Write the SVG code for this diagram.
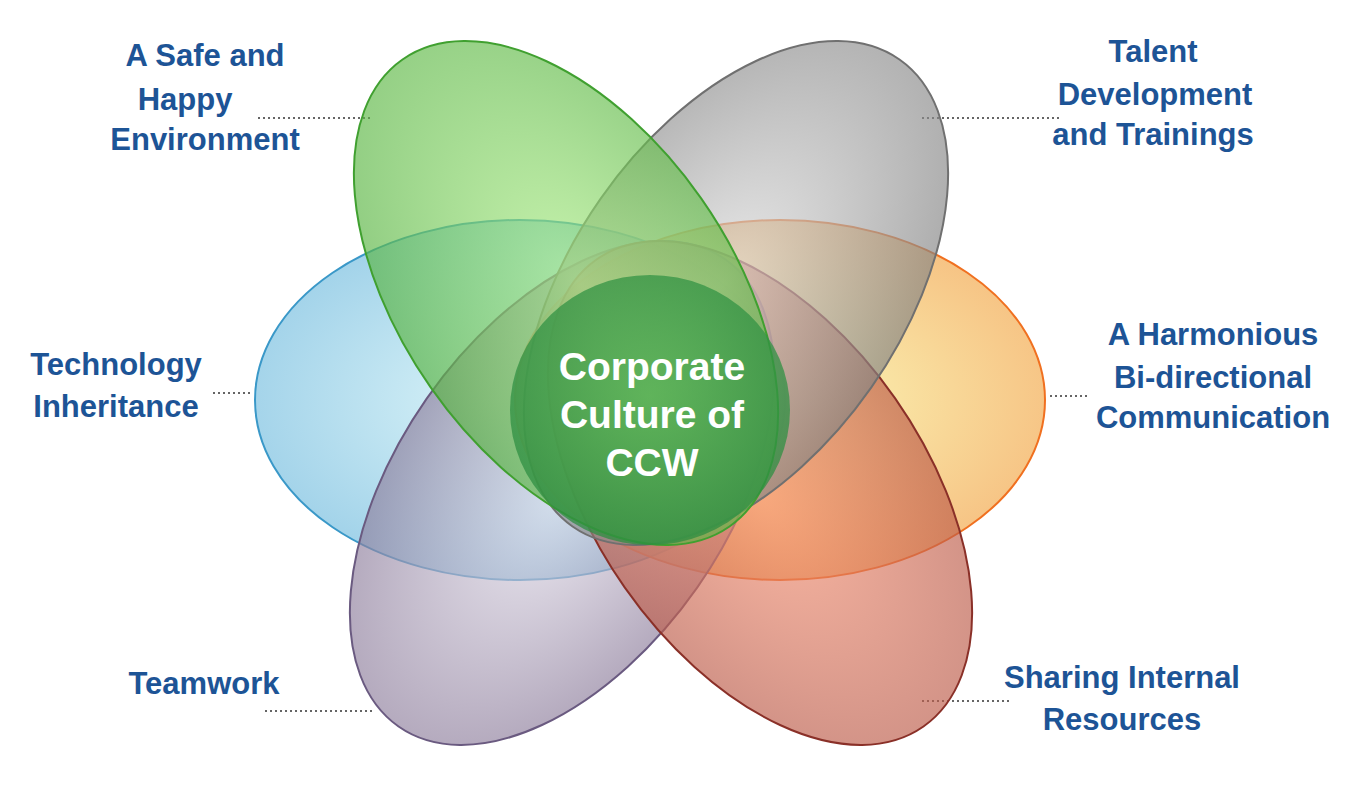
<svg xmlns="http://www.w3.org/2000/svg" width="1365" height="806" viewBox="0 0 1365 806">
<defs>
<radialGradient id="gG" cx="0.5" cy="0.45" r="0.6"><stop offset="0" stop-color="#a8ec80"/><stop offset="1" stop-color="#4fae3a"/></radialGradient>
<radialGradient id="gK" cx="0.5" cy="0.45" r="0.6"><stop offset="0" stop-color="#dcdcdc"/><stop offset="1" stop-color="#7a7a7a"/></radialGradient>
<radialGradient id="gB" cx="0.45" cy="0.5" r="0.6"><stop offset="0" stop-color="#c4ecf4"/><stop offset="1" stop-color="#5aaed8"/></radialGradient>
<radialGradient id="gO" cx="0.55" cy="0.5" r="0.6"><stop offset="0" stop-color="#f8ec88"/><stop offset="1" stop-color="#f09030"/></radialGradient>
<radialGradient id="gP" cx="0.5" cy="0.5" r="0.6"><stop offset="0" stop-color="#e4e0ec"/><stop offset="1" stop-color="#7c6a8c"/></radialGradient>
<radialGradient id="gR" cx="0.5" cy="0.5" r="0.6"><stop offset="0" stop-color="#f89070"/><stop offset="1" stop-color="#b05040"/></radialGradient>
<radialGradient id="gC" cx="0.5" cy="0.45" r="0.6"><stop offset="0" stop-color="#4cae50"/><stop offset="1" stop-color="#2a8a40"/></radialGradient>
</defs>
<style>
.e{fill-opacity:0.65;stroke-width:2}
.t{font-family:"Liberation Sans",Arial,sans-serif;font-weight:bold;font-size:31px;fill:#1d5496;text-anchor:middle}
.c{font-family:"Liberation Sans",Arial,sans-serif;font-weight:bold;font-size:39px;fill:#ffffff;text-anchor:middle}
.d{stroke:#333;stroke-width:1.5;stroke-dasharray:2 3}
</style>
<g id="connectors">
<line class="d" x1="258" y1="118" x2="370" y2="118"/>
<line class="d" x1="922" y1="118" x2="1062" y2="118"/>
<line class="d" x1="213" y1="393" x2="250" y2="393"/>
<line class="d" x1="1050" y1="396" x2="1090" y2="396"/>
<line class="d" x1="265" y1="711" x2="375" y2="711"/>
<line class="d" x1="922" y1="701" x2="1010" y2="701"/>
</g>
<g id="blue"><ellipse class="e" cx="520" cy="400" rx="265" ry="180" fill="url(#gB)" stroke="#3a98c8"/></g>
<g id="orange"><ellipse class="e" cx="780" cy="400" rx="265" ry="180" fill="url(#gO)" stroke="#f07020"/></g>
<g id="purple"><ellipse class="e" cx="0" cy="0" rx="285" ry="165" transform="translate(562 493) rotate(-55)" fill="url(#gP)" stroke="#6a5a80"/></g>
<g id="red"><ellipse class="e" cx="0" cy="0" rx="285" ry="165" transform="translate(760 493) rotate(55)" fill="url(#gR)" stroke="#8a3028"/></g>
<g id="gray"><ellipse class="e" cx="0" cy="0" rx="285" ry="165" transform="translate(736 293) rotate(-55)" fill="url(#gK)" stroke="#707070"/></g>
<g id="green"><ellipse class="e" cx="0" cy="0" rx="285" ry="165" transform="translate(566 293) rotate(55)" fill="url(#gG)" stroke="#40a030"/></g>
<g id="center"><ellipse cx="650" cy="410" rx="140" ry="135" fill="url(#gC)" fill-opacity="0.75"/>
<text class="c" x="652" y="380">Corporate</text><text class="c" x="652" y="428">Culture of</text><text class="c" x="652" y="476">CCW</text></g>
<g id="l1"><text class="t" x="205" y="66">A Safe and</text><text class="t" x="185" y="110">Happy</text><text class="t" x="205" y="150">Environment</text></g>
<g id="l2"><text class="t" x="1153" y="62">Talent</text><text class="t" x="1155" y="105">Development</text><text class="t" x="1153" y="145">and Trainings</text></g>
<g id="l3"><text class="t" x="116" y="375">Technology</text><text class="t" x="116" y="417">Inheritance</text></g>
<g id="l4"><text class="t" x="1213" y="345">A Harmonious</text><text class="t" x="1213" y="388">Bi-directional</text><text class="t" x="1213" y="428">Communication</text></g>
<g id="l5"><text class="t" x="204" y="694">Teamwork</text></g>
<g id="l6"><text class="t" x="1122" y="688">Sharing Internal</text><text class="t" x="1122" y="730">Resources</text></g>
</svg>
